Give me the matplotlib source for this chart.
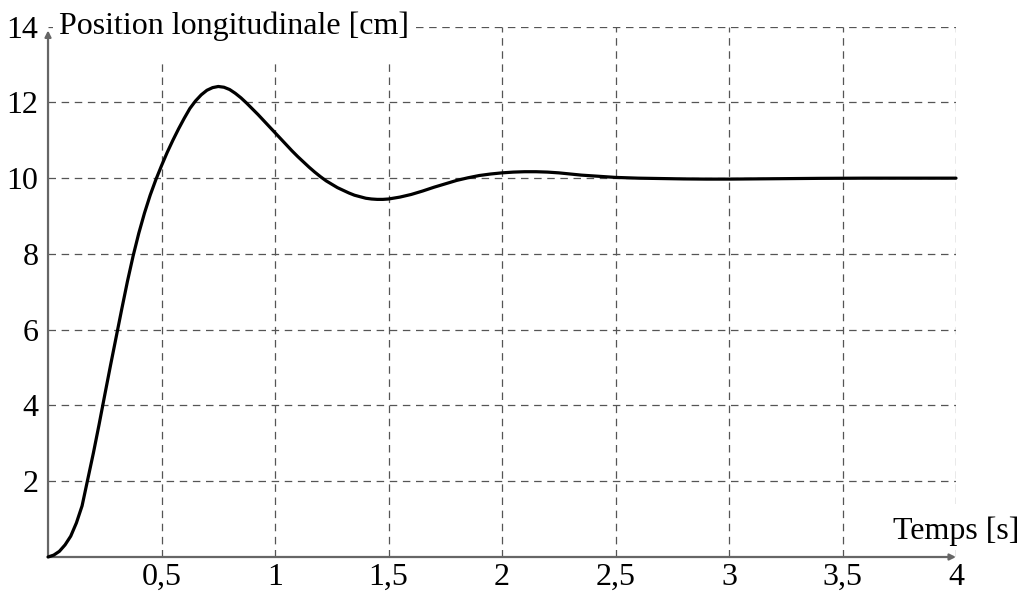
#!/usr/bin/env python3
"""Step response: position longitudinale vs temps."""

import matplotlib

matplotlib.use("Agg")
import matplotlib.pyplot as plt
from matplotlib.patches import Rectangle

# values (t in s, position in cm)
TIME = [
    0.000, 0.025, 0.050, 0.075, 0.100, 0.125, 0.150, 0.175, 0.200, 0.225,
    0.250, 0.275, 0.300, 0.325, 0.350, 0.375, 0.400, 0.425, 0.450, 0.475,
    0.500, 0.525, 0.550, 0.575, 0.600, 0.625, 0.650, 0.675, 0.700, 0.725,
    0.750, 0.775, 0.800, 0.825, 0.850, 0.875, 0.900, 0.925, 0.950, 0.975,
    1.000, 1.025, 1.050, 1.075, 1.100, 1.125, 1.150, 1.175, 1.200, 1.225,
    1.250, 1.275, 1.300, 1.325, 1.350, 1.375, 1.400, 1.425, 1.450, 1.475,
    1.500, 1.550, 1.600, 1.650, 1.700, 1.750, 1.800, 1.850, 1.900, 1.950,
    2.000, 2.050, 2.100, 2.150, 2.200, 2.250, 2.300, 2.350, 2.400, 2.450,
    2.500, 2.600, 2.700, 2.800, 2.900, 3.000, 3.200, 3.400, 3.600, 4.000,
]
POSITION = [
    0.00, 0.05, 0.15, 0.32, 0.55, 0.90, 1.35, 2.05, 2.75, 3.50,
    4.28, 5.05, 5.80, 6.55, 7.28, 7.95, 8.55, 9.08, 9.55, 9.96,
    10.33, 10.68, 11.00, 11.30, 11.58, 11.84, 12.04, 12.20, 12.32, 12.39,
    12.42, 12.40, 12.34, 12.24, 12.12, 11.98, 11.83, 11.68, 11.52, 11.36,
    11.20, 11.04, 10.88, 10.72, 10.57, 10.43, 10.29, 10.16, 10.04, 9.93,
    9.84, 9.75, 9.68, 9.61, 9.55, 9.51, 9.47, 9.45, 9.44, 9.44,
    9.45, 9.50, 9.57, 9.66, 9.76, 9.85, 9.94, 10.01, 10.07, 10.11,
    10.14, 10.16, 10.17, 10.17, 10.16, 10.14, 10.11, 10.08, 10.06, 10.04,
    10.02, 10.00, 9.99, 9.98, 9.975, 9.975, 9.985, 9.995, 10.00, 10.00,
]

X_TICKS = [0.5, 1, 1.5, 2, 2.5, 3, 3.5, 4]
X_LABELS = ["0,5", "1", "1,5", "2", "2,5", "3", "3,5", "4"]
Y_TICKS = [2, 4, 6, 8, 10, 12, 14]
Y_LABELS = ["2", "4", "6", "8", "10", "12", "14"]

FONT = "Liberation Serif"
FONT_PT = 23
GRID_COLOR = "#555555"
AXIS_COLOR = "#666666"

fig = plt.figure(figsize=(10.24, 5.93), dpi=100)
ax = fig.add_axes([0.0469, 0.0607, 0.8867, 0.8944])
ax.set_xlim(0, 4)
ax.set_ylim(0, 14)

for s in ax.spines.values():
    s.set_visible(False)

ax.set_xticks(X_TICKS)
ax.set_xticklabels(X_LABELS, family=FONT, fontsize=FONT_PT)
ax.set_yticks(Y_TICKS)
ax.set_yticklabels(Y_LABELS, family=FONT, fontsize=FONT_PT)
ax.tick_params(axis="x", length=0, pad=4)
ax.tick_params(axis="y", length=0, pad=7)

ax.grid(True, color=GRID_COLOR, linestyle=(0, (6, 4.5)), linewidth=0.9)
ax.set_axisbelow(True)

# white boxes behind the axis titles
ax.add_patch(Rectangle((0.02, 13.15), 1.6, 1.8, facecolor="white",
                       edgecolor="none", zorder=1.5, clip_on=False))
ax.add_patch(Rectangle((3.66, 0.25), 0.75, 1.15, facecolor="white",
                       edgecolor="none", zorder=1.5, clip_on=False))

# axes with arrows
arrow = dict(arrowstyle="-|>", color=AXIS_COLOR, lw=1.6, mutation_scale=9,
             shrinkA=0, shrinkB=0)
ax.annotate("", xy=(4.0, 0), xytext=(0, 0), arrowprops=arrow,
            annotation_clip=False, zorder=3)
ax.annotate("", xy=(0, 13.9), xytext=(0, 0), arrowprops=arrow,
            annotation_clip=False, zorder=3)

ax.plot(TIME, POSITION, color="black", linewidth=2.3, zorder=4,
        solid_capstyle="round", solid_joinstyle="round", clip_on=False)

ax.text(0.05, 14.0, "Position longitudinale [cm]", family=FONT,
        fontsize=FONT_PT, ha="left", va="center", zorder=5)
ax.text(4.0, 0.68, "Temps [s]", family=FONT, fontsize=FONT_PT,
        ha="center", va="center", zorder=5, clip_on=False)

fig.savefig("out.png", dpi=100, facecolor="white")
